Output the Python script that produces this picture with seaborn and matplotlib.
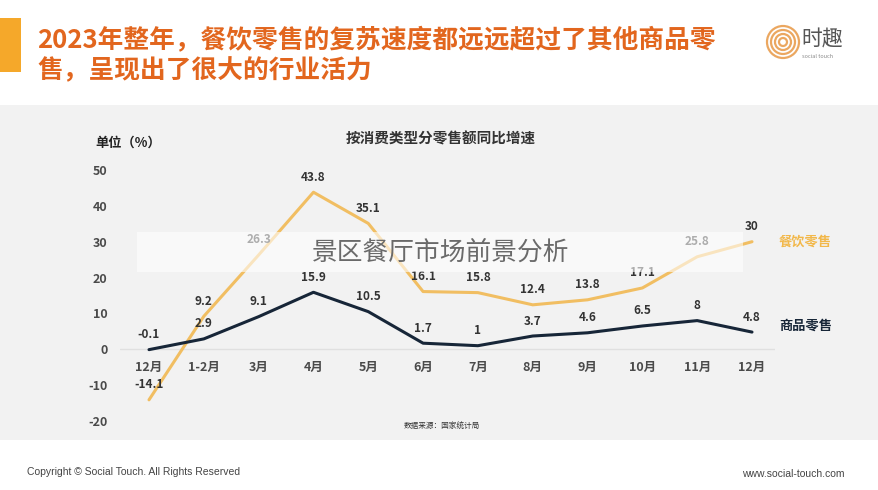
import matplotlib
matplotlib.use("Agg")
import matplotlib.pyplot as plt
import seaborn as sns
import pandas as pd
from matplotlib.patches import Rectangle, Circle

months = ["12月", "1-2月", "3月", "4月", "5月", "6月", "7月", "8月", "9月", "10月", "11月", "12月"]
catering = [-14.1, 9.2, 26.3, 43.8, 35.1, 16.1, 15.8, 12.4, 13.8, 17.1, 25.8, 30]
goods = [-0.1, 2.9, 9.1, 15.9, 10.5, 1.7, 1, 3.7, 4.6, 6.5, 8, 4.8]
yticks = [-20, -10, 0, 10, 20, 30, 40, 50]
series_names = ["餐饮零售", "商品零售"]

sns.set_theme(style="white")
plt.rcParams['font.family'] = ['Noto Sans CJK SC', 'DejaVu Sans']

W, H = 879, 490
fig = plt.figure(figsize=(W / 100, H / 100), dpi=100)
fig.patch.set_facecolor("white")

def fx(x): return x / W
def fy(y): return 1 - y / H

# gray panel
fig.add_artist(Rectangle((0, fy(440)), 1, fy(105) - fy(440), transform=fig.transFigure,
                         facecolor="#f2f2f2", edgecolor="none", zorder=-10))
# orange bar
fig.add_artist(Rectangle((0, fy(72)), fx(21), fy(18) - fy(72), transform=fig.transFigure,
                         facecolor="#F5A82A", edgecolor="none", zorder=1))
# title
fig.text(fx(37), fy(41), "2023年整年，餐饮零售的复苏速度都远远超过了其他商品零", fontsize=18.5,
         fontweight="bold", color="#E2661E", va="center", ha="left")
fig.text(fx(37), fy(71), "售，呈现出了很大的行业活力", fontsize=18.5,
         fontweight="bold", color="#E2661E", va="center", ha="left")
# logo
for r in (0.16, 0.12, 0.08, 0.04):
    fig.add_artist(Circle((7.83, (H - 42) / 100), r, transform=fig.dpi_scale_trans, fill=False,
                          edgecolor="#EBA760", linewidth=1.6, zorder=2))
fig.text(fx(801), fy(39), "时趣", fontsize=15, color="#555555", va="center", ha="left")
fig.text(fx(802), fy(57), "social touch", fontsize=4, color="#888888", va="center", ha="left")

# axes: x data 0..11 -> px 149..752, y -20..50 -> px 421..170
ax_left, ax_right, ax_top, ax_bot = 120, 775, 170, 421
ax = fig.add_axes([fx(ax_left), fy(ax_bot), fx(ax_right) - fx(ax_left), fy(ax_top) - fy(ax_bot)])
ax.set_facecolor("none")
step = (752 - 149) / 11
ax.set_xlim(-(149 - ax_left) / step, 11 + (ax_right - 752) / step)
ax.set_ylim(-20, 50)

df = pd.DataFrame({
    "x": list(range(len(months))) * 2,
    "value": catering + goods,
    "series": [series_names[0]] * len(months) + [series_names[1]] * len(months),
})
palette = {series_names[0]: "#F1BE62", series_names[1]: "#172638"}
sns.lineplot(data=df, x="x", y="value", hue="series", palette=palette, linewidth=2.2,
             legend=False, ax=ax, zorder=3)

ax.axhline(0, color="#e0e0e0", linewidth=1, zorder=1)
for s in ax.spines.values():
    s.set_visible(False)
ax.set_xticks([])
ax.set_yticks(yticks)
ax.set_yticklabels([str(t) for t in yticks], fontsize=9, fontweight="bold", color="#4a4a4a")
ax.tick_params(axis="y", length=0, pad=9)
ax.set_xlabel("")
ax.set_ylabel("")

for i, m in enumerate(months):
    ax.text(i, -5, m, fontsize=9, fontweight="bold", color="#4a4a4a", ha="center", va="center")

for vals in (catering, goods):
    for i, v in enumerate(vals):
        lab = f"{v:g}"
        ax.annotate(lab, (i, v), xytext=(0, 15), textcoords="offset pixels", ha="center",
                    va="center", fontsize=8.5, fontweight="bold", color="#333333", zorder=4)

ax.text(11 + 27 / step, (349 - 241) / 3.586, series_names[0],
        fontsize=9.5, fontweight="bold", color="#F2B84A", ha="left", va="center")
ax.text(11 + 27 / step, (349 - 325) / 3.586, series_names[1],
        fontsize=9.5, fontweight="bold", color="#172638", ha="left", va="center")

fig.text(fx(441), fy(138), "按消费类型分零售额同比增速", fontsize=10.5, fontweight="bold",
         color="#333333", ha="center", va="center")
fig.text(fx(95), fy(143), "单位（%）", fontsize=9.5, fontweight="bold", color="#222222",
         ha="left", va="center")
fig.text(fx(442), fy(427), "数据来源：国家统计局", fontsize=5.5, color="#333333",
         ha="center", va="center")

# watermark band
fig.add_artist(Rectangle((fx(137), fy(272)), fx(743) - fx(137), fy(232) - fy(272),
                         transform=fig.transFigure, facecolor="white", alpha=0.6,
                         edgecolor="none", zorder=5))
fig.text(fx(441), fy(253), "景区餐厅市场前景分析", fontsize=18.5, color="#6a6a6a",
         fontweight="light", ha="center", va="center", zorder=6)

# footer
fig.text(fx(27), fy(472), "Copyright © Social Touch. All Rights Reserved", fontsize=7.5,
         color="#444444", family=["Liberation Sans", "DejaVu Sans"], ha="left", va="center")
fig.text(fx(845), fy(474), "www.social-touch.com", fontsize=7.5,
         color="#444444", family=["Liberation Sans", "DejaVu Sans"], ha="right", va="center")

fig.savefig("out.png", dpi=100)
